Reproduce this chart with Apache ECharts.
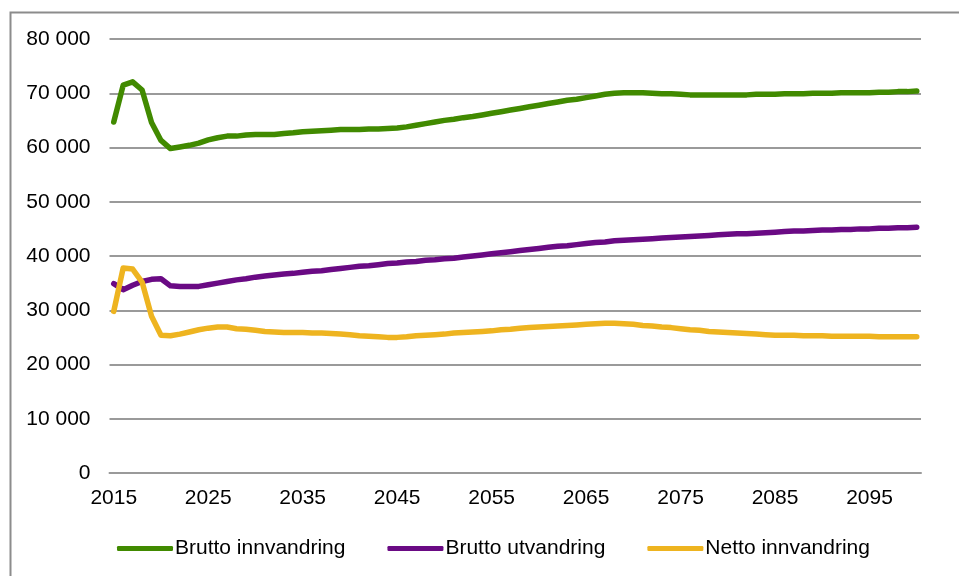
<!DOCTYPE html>
<html>
<head>
<meta charset="utf-8">
<script src="https://cdn.jsdelivr.net/npm/echarts@6/dist/echarts.min.js"></script>
<style>
  html, body { margin: 0; padding: 0; background: #ffffff; }
  #chart { width: 959px; height: 576px; }
</style>
</head>
<body>
<div id="chart"></div>
<script>
// Years 2015–2100
const startYear = 2015;
const endYear = 2100;

// Tick labels on the time axis
const yearTicks = [2015, 2025, 2035, 2045, 2055, 2065, 2075, 2085, 2095];

// Series names
const seriesNames = ['Brutto innvandring', 'Brutto utvandring', 'Netto innvandring'];

// Gross immigration per year, 2015–2100
const bruttoInnvandring = [
  64700, 71500, 72100, 70600, 64600, 61300, 59800, 60100, 60400, 60800,
  61400, 61800, 62100, 62100, 62300, 62400, 62400, 62400, 62600, 62700,
  62900, 63000, 63100, 63200, 63300, 63300, 63300, 63400, 63400, 63500,
  63600, 63800, 64100, 64400, 64700, 65000, 65200, 65500, 65700, 66000,
  66300, 66600, 66900, 67200, 67500, 67800, 68100, 68400, 68700, 68900,
  69200, 69500, 69800, 70000, 70100, 70100, 70100, 70000, 69900, 69900,
  69800, 69700, 69700, 69700, 69700, 69700, 69700, 69700, 69800, 69800,
  69800, 69900, 69900, 69900, 70000, 70000, 70000, 70100, 70100, 70100,
  70100, 70200, 70200, 70300, 70300, 70400
];

// Gross emigration per year, 2015–2100
const bruttoUtvandring = [
  34900, 33800, 34600, 35300, 35700, 35800, 34500, 34400, 34400, 34400,
  34700, 35000, 35300, 35600, 35800, 36100, 36300, 36500, 36700, 36800,
  37000, 37200, 37300, 37500, 37700, 37900, 38100, 38200, 38400, 38600,
  38700, 38900, 39000, 39200, 39300, 39500, 39600, 39800, 40000, 40200,
  40400, 40600, 40800, 41000, 41200, 41400, 41600, 41800, 41900, 42100,
  42300, 42500, 42600, 42800, 42900, 43000, 43100, 43200, 43300, 43400,
  43500, 43600, 43700, 43800, 43900, 44000, 44100, 44100, 44200, 44300,
  44400, 44500, 44600, 44600, 44700, 44800, 44800, 44900, 44900, 45000,
  45000, 45100, 45100, 45200, 45200, 45300
];

// Net immigration per year, 2015–2100
const nettoInnvandring = [
  29800, 37800, 37600, 35200, 28900, 25400, 25300, 25600, 26000, 26400,
  26700, 26900, 26900, 26600, 26500, 26300, 26100, 26000, 25900, 25900,
  25900, 25800, 25800, 25700, 25600, 25500, 25300, 25200, 25100, 25000,
  25000, 25100, 25300, 25400, 25500, 25600, 25800, 25900, 26000, 26100,
  26200, 26400, 26500, 26700, 26800, 26900, 27000, 27100, 27200, 27300,
  27400, 27500, 27600, 27600, 27500, 27400, 27200, 27100, 26900, 26800,
  26600, 26400, 26300, 26100, 26000, 25900, 25800, 25700, 25600, 25500,
  25400, 25400, 25400, 25300, 25300, 25300, 25200, 25200, 25200, 25200,
  25200, 25100, 25100, 25100, 25100, 25100
];

const seriesColors = ['#418A00', '#6A0A84', '#EEB420'];

const FONT = '"Liberation Sans", Arial, sans-serif';
const TEXT_SIZE = 21;
const GRID_COLOR = '#9a9a9a';

function toPairs(values) {
  return values.map((v, i) => [startYear + i, v]);
}

function spaced(v) {
  return String(v).replace(/\B(?=(\d{3})+(?!\d))/g, ' ');
}

const chart = echarts.init(document.getElementById('chart'), null, { renderer: 'canvas' });

const seriesData = [bruttoInnvandring, bruttoUtvandring, nettoInnvandring];

chart.setOption({
  animation: false,
  backgroundColor: '#ffffff',
  textStyle: { fontFamily: FONT },
  graphic: [{
    type: 'rect',
    left: 8,
    top: 10,
    shape: { x: 0, y: 0, width: 1100, height: 1100 },
    style: { fill: 'none', stroke: '#8c8c8c', lineWidth: 2 },
    silent: true
  }],
  grid: { left: 109.5, right: 38, top: 39, bottom: 103, containLabel: false },
  legend: {
    left: 112,
    top: 533,
    icon: 'roundRect',
    itemWidth: 56,
    itemHeight: 5,
    itemGap: 42,
    textStyle: { fontFamily: FONT, fontSize: TEXT_SIZE, color: '#000', padding: [0, 0, 0, -3] },
    data: seriesNames
  },
  xAxis: {
    type: 'value',
    min: startYear - 0.45,
    max: endYear + 0.45,
    axisLine: { show: true, lineStyle: { color: GRID_COLOR, width: 2 } },
    axisTick: { show: false },
    splitLine: { show: false },
    axisLabel: {
      customValues: yearTicks,
      margin: 15,
      color: '#000',
      fontFamily: FONT,
      fontSize: TEXT_SIZE,
      formatter: v => String(v)
    }
  },
  yAxis: {
    type: 'value',
    min: 0,
    max: 80000,
    interval: 10000,
    axisLine: { show: false },
    axisTick: { show: false },
    splitLine: { show: true, lineStyle: { color: GRID_COLOR, width: 2 } },
    axisLabel: {
      margin: 19,
      color: '#000',
      fontFamily: FONT,
      fontSize: TEXT_SIZE,
      formatter: v => spaced(v)
    }
  },
  series: seriesNames.map((name, i) => ({
    name,
    type: 'line',
    data: toPairs(seriesData[i]),
    showSymbol: false,
    symbol: 'none',
    smooth: false,
    color: seriesColors[i],
    lineStyle: { width: 5.5, color: seriesColors[i], cap: 'round', join: 'round' },
    z: 2 + i
  }))
});
</script>
</body>
</html>
